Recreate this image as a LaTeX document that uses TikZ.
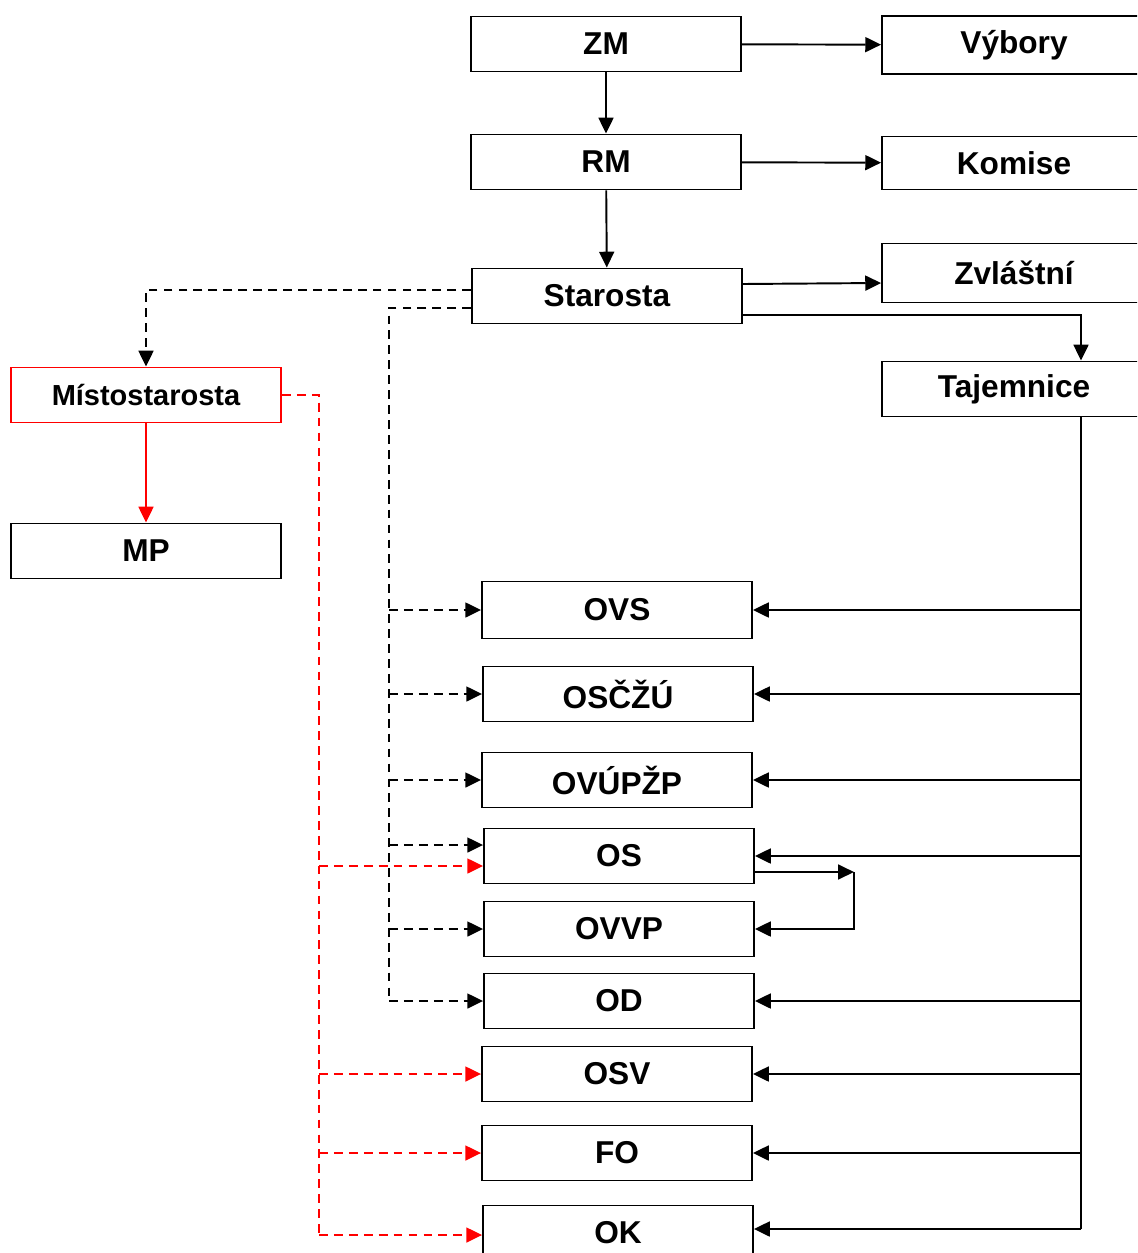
\documentclass[tikz,border=0pt]{standalone}
\usepackage{fontspec}
\setmainfont{Liberation Sans}
\usetikzlibrary{arrows.meta}
\tikzset{box/.style={draw,line width=1.1pt,minimum width=5.4cm,minimum height=1.1cm,font=\fontsize{18}{18}\selectfont\bfseries}}
\tikzset{side/.style={box,minimum width=5.28cm}}
\tikzset{dsh/.style={dash pattern=on 5pt off 3.5pt,line width=1.1pt}}
\tikzset{rdsh/.style={dsh,red}}
\begin{document}
\begin{tikzpicture}[x=0.02cm,y=-0.02cm,>={Triangle[length=9pt,width=8.5pt]},line width=1.1pt]
            \useasboundingbox (0,0) rectangle (1137,1253);
            \clip (0,0) rectangle (1137,1253);
            % top
            \node[box] (ZM) at (606,44) {ZM};
            \node[side,minimum height=1.16cm] (Vybory) at (1014,45) {Výbory}
              edge [<-] (ZM);
            \node[box] (RM) at (606,162) {RM}
              edge [<-] (ZM);
            \node[side,minimum height=1.06cm] (Komise) at (1014,163) {Komise}
              edge [<-] (RM);
            \node[box] (Starosta) at (607,296) {Starosta}
              edge [<-] (RM);
            \node[side,minimum height=1.18cm] (Zvlastni) at (1014,273) {Zvláštní};
            \node[side] (Tajemnice) at (1014,389) {Tajemnice};
            \draw[->] ([yshift=0.24cm]Starosta.east) -- ([yshift=-0.2cm]Zvlastni.west);
            % left
            \node[box,draw=red,font=\fontsize{16.5}{16.5}\selectfont\bfseries] (Mistostarosta) at (146,395) {Místostarosta};
            \node[box] (MP) at (146,551) {MP}
              edge [<-,red] (Mistostarosta);
            % odbory
            \node[box,minimum height=1.14cm] (OVS) at (617,610) {OVS};
            \node[box] (OSCZU) at (618,694) {OSČŽÚ};
            \node[box] (OVUPZP) at (617,780) {OVÚPŽP};
            \node[box] (OS) at (619,856) {OS};
            \node[box] (OVVP) at (619,929) {OVVP};
            \node[box] (OD) at (619,1001) {OD};
            \node[box] (OSV) at (617,1074) {OSV};
            \node[box] (FO) at (617,1153) {FO};
            \node[box] (OK) at (618,1233) {OK};
            \coordinate (tt) at (1081,1229);
            \coordinate (sd) at (389,1001);
            \coordinate (md) at (319,1235);
            \coordinate (osb) at ([yshift=0.22cm]OS.west);
            \coordinate (osr) at ([yshift=-0.2cm]OS.west);
            \coordinate (osout) at ([yshift=-0.32cm]OS.east);
            \coordinate (sw) at ([xshift=1.98cm]osout);
            % tajemnice
            \draw[->] ([yshift=-0.38cm]Starosta.east) -| (Tajemnice.north -| tt);
            \draw (Tajemnice.south -| tt) -- (tt);
            \draw[->] (tt |- OVS) -- (OVS);
            \draw[->] (tt |- OSCZU) -- (OSCZU);
            \draw[->] (tt |- OVUPZP) -- (OVUPZP);
            \draw[->] (tt |- OS) -- (OS);
            \draw[->] (tt |- OD) -- (OD);
            \draw[->] (tt |- OSV) -- (OSV);
            \draw[->] (tt |- FO) -- (FO);
            \draw[->] (tt) -- (OK.east |- tt);
            \draw[->] (osout) -- (sw);
            \draw[->] (sw) |- (OVVP);
            % starosta
            \draw[dsh,->] ([yshift=0.12cm]Starosta.west) -| (Mistostarosta.north);
            \draw[dsh] ([yshift=-0.24cm]Starosta.west) -| (sd);
            \draw[dsh,->] (sd |- OVS) -- (OVS);
            \draw[dsh,->] (sd |- OSCZU) -- (OSCZU);
            \draw[dsh,->] (sd |- OVUPZP) -- (OVUPZP);
            \draw[dsh,->] (osb -| sd) -- (osb);
            \draw[dsh,->] (sd |- OVVP) -- (OVVP);
            \draw[dsh,->] (sd) -- (OD);
            % mistostarosta
            \draw[rdsh] (Mistostarosta.east) -| (md);
            \draw[rdsh,->] (osr -| md) -- (osr);
            \draw[rdsh,->] (md |- OSV) -- (OSV);
            \draw[rdsh,->] (md |- FO) -- (FO);
            \draw[rdsh,->] (md) -- (OK.west |- md);
          \end{tikzpicture}
\end{document}
